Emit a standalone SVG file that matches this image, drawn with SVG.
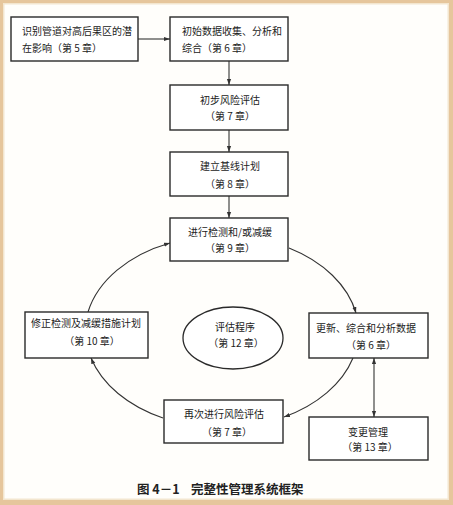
<svg xmlns="http://www.w3.org/2000/svg" width="453" height="505" viewBox="0 0 453 505">
<defs>
<style>
.box{fill:#fff;stroke:#2a2a2a;stroke-width:1.4}
.t{font-family:"Noto Sans CJK SC","Noto Sans",sans-serif;font-size:10px;fill:#222}
.c{text-anchor:middle}
.con{fill:none;stroke:#333;stroke-width:1.1}
.cap{font-family:"Noto Sans CJK SC","Noto Sans",sans-serif;font-size:12.5px;font-weight:bold;fill:#222}
</style>
<marker id="ah" viewBox="0 0 10 10" refX="10" refY="5" markerWidth="6" markerHeight="6" orient="auto-start-reverse" markerUnits="userSpaceOnUse">
<path d="M0,1.5 L10,5 L0,8.5 Z" fill="#333"/>
</marker>
</defs>
<rect x="0" y="0" width="453" height="505" fill="#e6c69c"/>
<rect x="3" y="3" width="446" height="497" fill="#f3e6cf"/>
<rect x="4.5" y="4.5" width="443" height="494" fill="#fffefb"/>

<g id="connectors">
<path class="con" d="M138,39 L170,39" marker-end="url(#ah)"/>
<path class="con" d="M229,61 L229,85" marker-end="url(#ah)"/>
<path class="con" d="M229,130 L229,152" marker-end="url(#ah)"/>
<path class="con" d="M229,196 L229,218" marker-end="url(#ah)"/>
<path class="con" d="M289,248 A135,97 0 0 1 356,313" marker-end="url(#ah)"/>
<path class="con" d="M353,358 A135,97 0 0 1 284,417" marker-end="url(#ah)"/>
<path class="con" d="M163,418 A135,97 0 0 1 91,358" marker-end="url(#ah)"/>
<path class="con" d="M88,312 A135,97 0 0 1 170,243" marker-end="url(#ah)"/>
<path class="con" d="M374,358 L374,417" marker-start="url(#ah)" marker-end="url(#ah)"/>
</g>

<g id="n1">
<rect class="box" x="11" y="17" width="127" height="44"/>
<text class="t" x="22" y="35">识别管道对高后果区的潜</text>
<text class="t" x="22" y="52">在影响（第 5 章）</text>
</g>
<g id="n2">
<rect class="box" x="170" y="17" width="118" height="44"/>
<text class="t" x="182" y="35">初始数据收集、分析和</text>
<text class="t" x="182" y="52">综合（第 6 章）</text>
</g>
<g id="n3">
<rect class="box" x="170" y="85" width="118" height="45"/>
<text class="t c" x="230" y="104">初步风险评估</text>
<text class="t c" x="230" y="120">（第 7 章）</text>
</g>
<g id="n4">
<rect class="box" x="170" y="152" width="118" height="44"/>
<text class="t c" x="230" y="170">建立基线计划</text>
<text class="t c" x="230" y="188">（第 8 章）</text>
</g>
<g id="n5">
<rect class="box" x="170" y="218" width="118" height="43"/>
<text class="t c" x="230" y="236">进行检测和/或减缓</text>
<text class="t c" x="230" y="252">（第 9 章）</text>
</g>
<g id="n6">
<rect class="box" x="25" y="312" width="123" height="46"/>
<text class="t" x="31" y="327">修正检测及减缓措施计划</text>
<text class="t c" x="92" y="345">（第 10 章）</text>
</g>
<g id="n7">
<ellipse cx="233" cy="338" rx="50" ry="31" fill="#fff" stroke="#2a2a2a" stroke-width="1.3"/>
<text class="t c" x="235" y="331">评估程序</text>
<text class="t c" x="236" y="347">（第 12 章）</text>
</g>
<g id="n8">
<rect class="box" x="309" y="313" width="119" height="45"/>
<text class="t" x="316" y="332">更新、综合和分析数据</text>
<text class="t c" x="371" y="349">（第 6 章）</text>
</g>
<g id="n9">
<rect class="box" x="164" y="400" width="119" height="43"/>
<text class="t c" x="224" y="418">再次进行风险评估</text>
<text class="t c" x="227" y="436">（第 7 章）</text>
</g>
<g id="n10">
<rect class="box" x="309" y="417" width="119" height="43"/>
<text class="t c" x="368" y="436">变更管理</text>
<text class="t c" x="370" y="451">（第 13 章）</text>
</g>
<text class="cap" x="137" y="494">图 4－1</text>
<text class="cap" x="191" y="494">完整性管理系统框架</text>
</svg>
